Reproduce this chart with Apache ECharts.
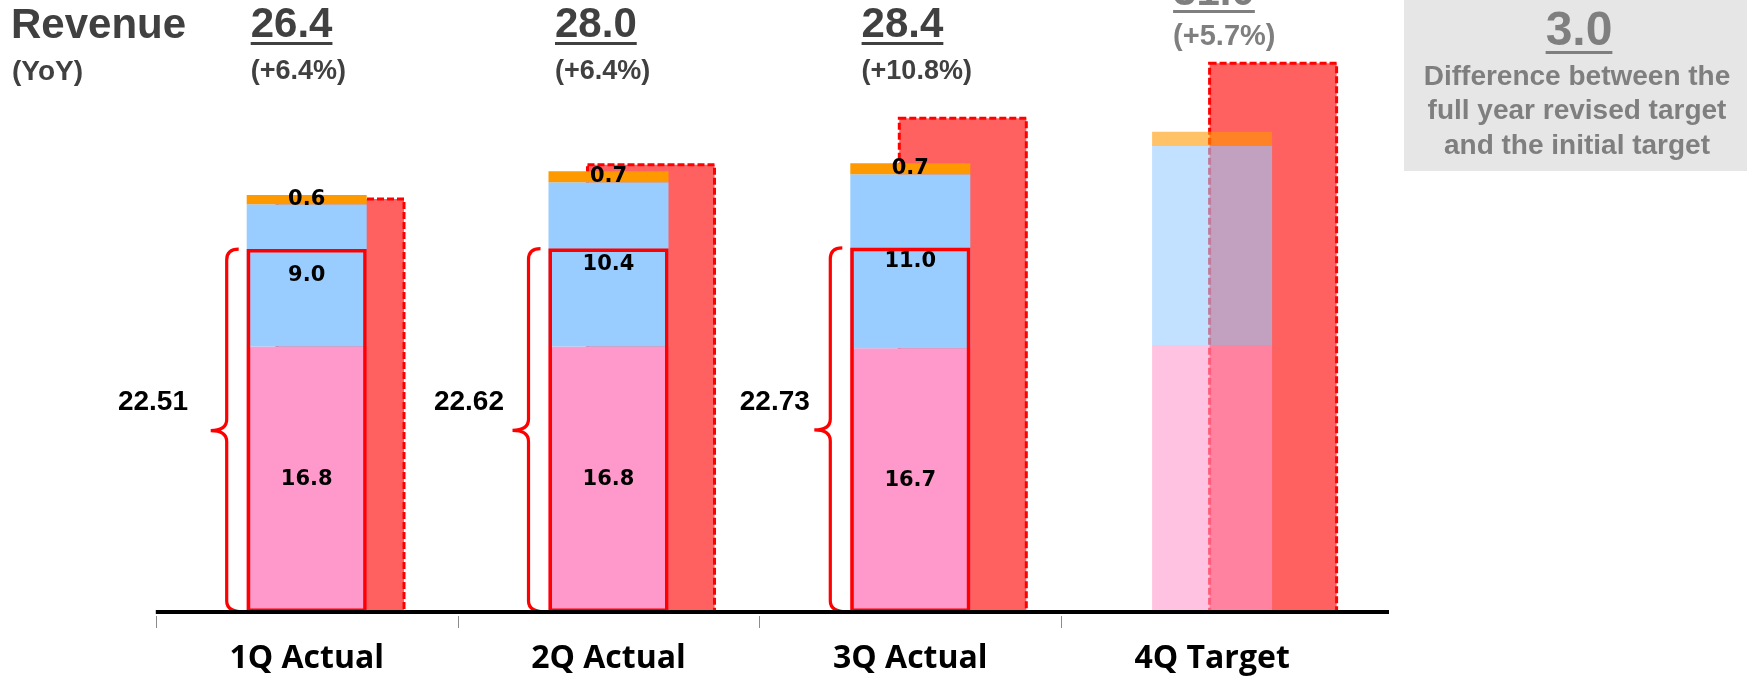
<!DOCTYPE html>
<html><head><meta charset="utf-8">
<script src="https://cdn.jsdelivr.net/npm/echarts@6.0.0/dist/echarts.min.js"></script>
<style>html,body{margin:0;padding:0;background:#fff;}#c{width:1747px;height:677px;}</style>
</head><body><div id="c"></div>
<script>
// ---- data ----
const categories = ['1Q Actual', '2Q Actual', '3Q Actual', '4Q Target'];
const pinkValues = [16.8, 16.8, 16.7, 16.9];
const blueValues = [9.0, 10.4, 11.0, 12.6];
const orangeValues = [0.6, 0.7, 0.7, 0.9];
const redValues = [26.14, 28.31, 31.25, 34.73];
const boxValues = [22.97, 23.0, 23.05, null];
const braceLabels = ['22.51', '22.62', '22.73', ''];
const headerValues = ['26.4', '28.0', '28.4', '31.0'];
const headerYoY = ['(+6.4%)', '(+6.4%)', '(+10.8%)', '(+5.7%)'];
const titleLines = ['Revenue', '(YoY)'];
const diffValue = '3.0';
const diffText = ['Difference between the', 'full year revised target', 'and the initial target'];

// ---- styling / layout ----
const SANS = '"Liberation Sans", Arial, sans-serif';
const barW = 120;
const redOffset = [33.8, 42.5, 52.5, 61];
const redWidth = 127;
const hdrOffset = [-56, -53.5, -48.7, -39];
const braceLabelGap = [58.7, 44.5, 40.5];
const meas = document.createElement('canvas').getContext('2d');
function textW(t, size) { meas.font = 'bold ' + size + 'px ' + SANS; return meas.measureText(t).width; }

function stackData(vals) {
  return vals.map((v, i) => i === 3 ? { value: v, itemStyle: { opacity: 0.6 }, label: { show: false } } : v);
}
const segLabel = {
  show: true, position: 'inside', color: '#000', fontFamily: '"DejaVu Sans"', fontWeight: 'bold', fontSize: 21,
  formatter: p => Number(p.value).toFixed(1)
};

function decorRender(params, api) {
  const i = api.value(0);
  const c = api.coord([i, 0]);
  const bw = api.size([1, 0])[0];
  const bx = Math.round(c[0] - bw / 2) + 0.5;
  const ch = [{ type: 'line', shape: { x1: bx, y1: c[1] + 4, x2: bx, y2: c[1] + 16 }, style: { stroke: '#8c8c8c', lineWidth: 1 } }];
  if (i === 0) {
    const cs = params.coordSys;
    ch.push({ type: 'line', shape: { x1: cs.x, y1: c[1], x2: cs.x + cs.width + 26, y2: c[1] }, style: { stroke: '#000', lineWidth: 4 } });
  }
  return { type: 'group', children: ch };
}

function redRender(params, api) {
  const i = api.value(0);
  const c = api.coord([i, api.value(1)]);
  const b = api.coord([i, 0]);
  const x = c[0] + redOffset[i] - redWidth / 2;
  return { type: 'rect', shape: { x: x, y: c[1], width: redWidth, height: b[1] - c[1] },
    style: { fill: '#ff6060', stroke: '#ff0000', lineWidth: 3, lineDash: [7, 3] } };
}

function braceRender(params, api) {
  const i = api.value(0);
  const top = api.coord([i, api.value(1)]);
  const bot = api.coord([i, 0]);
  const L = top[0] - barW / 2;
  const sx = L - 20, tx = L - 36, ex = L - 8, r = 11;
  const t = top[1], b = bot[1], m = (t + b) / 2;
  const d = 'M' + ex + ',' + t + ' Q' + sx + ',' + t + ' ' + sx + ',' + (t + r) +
    ' L' + sx + ',' + (m - r) + ' Q' + sx + ',' + m + ' ' + tx + ',' + m +
    ' Q' + sx + ',' + m + ' ' + sx + ',' + (m + r) + ' L' + sx + ',' + (b - r) +
    ' Q' + sx + ',' + b + ' ' + (L - 2) + ',' + b;
  return { type: 'group', children: [
    { type: 'path', shape: { pathData: d }, style: { fill: 'none', stroke: '#ff0000', lineWidth: 3.2 } },
    { type: 'text', style: { text: braceLabels[i], x: L - braceLabelGap[i], y: m - 28, align: 'right', verticalAlign: 'middle',
      font: 'bold 28px ' + SANS, fill: '#000' } }
  ] };
}

function headerRender(params, api) {
  const i = api.value(0);
  const cx = api.coord([i, 0])[0];
  const x = cx + hdrOffset[i];
  const is4 = i === 3;
  const col = is4 ? '#7f7f7f' : '#404040';
  const dy = is4 ? -32 : 0, dy2 = is4 ? -35 : 0;
  const vs = 42, ps = is4 ? 29 : 27;
  const w = textW(headerValues[i], vs);
  return { type: 'group', children: [
    { type: 'text', style: { text: headerValues[i], x: x, y: 25.5 + dy, verticalAlign: 'middle', font: 'bold ' + vs + 'px ' + SANS, fill: col } },
    { type: 'rect', shape: { x: x, y: 42 + dy, width: w, height: 3 }, style: { fill: col } },
    { type: 'text', style: { text: headerYoY[i], x: x, y: 72 + dy2, verticalAlign: 'middle', font: 'bold ' + ps + 'px ' + SANS, fill: col } }
  ] };
}

const chart = echarts.init(document.getElementById('c'));
const diffW = textW(diffValue, 48);
const option = {
  animation: false,
  grid: { left: 155.8, right: 384, top: 11.6, bottom: 65 },
  xAxis: { type: 'category', data: categories, axisLine: { show: false }, axisTick: { show: false }, splitLine: { show: false },
    axisLabel: { color: '#000', fontFamily: '"Open Sans"', fontWeight: 'bold', fontSize: 32, lineHeight: 32, margin: 31 } },
  yAxis: { type: 'value', min: 0, max: 38, show: false },
  series: [
    { type: 'custom', name: 'target', z: 1, silent: true, renderItem: redRender, encode: { x: 0, y: 1 },
      data: redValues.map((v, i) => [i, v]) },
    { type: 'bar', name: 'pink', stack: 'rev', z: 3, barWidth: barW, barGap: '-100%', itemStyle: { color: '#ff99cc' },
      label: segLabel, data: stackData(pinkValues) },
    { type: 'bar', name: 'blue', stack: 'rev', z: 3, barWidth: barW, barGap: '-100%', itemStyle: { color: '#99ccff' },
      label: segLabel, data: stackData(blueValues) },
    { type: 'bar', name: 'orange', stack: 'rev', z: 3, barWidth: barW, barGap: '-100%', itemStyle: { color: '#ff9900' },
      label: segLabel, data: stackData(orangeValues) },
    { type: 'bar', name: 'box', z: 4, barWidth: barW, barGap: '-100%',
      itemStyle: { color: 'rgba(0,0,0,0)', borderColor: '#ff0000', borderWidth: 3.5 },
      data: boxValues.map(v => v == null ? '-' : v) },
    { type: 'custom', name: 'brace', z: 5, silent: true, renderItem: braceRender, encode: { x: 0, y: 1 },
      data: boxValues.map((v, i) => v == null ? null : [i, v]).filter(Boolean) },
    { type: 'custom', name: 'header', z: 5, silent: true, renderItem: headerRender, encode: { x: 0, y: 1 },
      data: categories.map((c, i) => [i, 0]) },
    { type: 'custom', name: 'decor', z: 10, silent: true, renderItem: decorRender, encode: { x: 0, y: 1 },
      data: categories.map((c, i) => [i, 0]) }
  ],
  graphic: [
    { type: 'text', x: 11, y: 26.5, style: { text: titleLines[0], verticalAlign: 'middle', font: 'bold 42px ' + SANS, fill: '#404040' } },
    { type: 'text', x: 12, y: 72, style: { text: titleLines[1], verticalAlign: 'middle', font: 'bold 28px ' + SANS, fill: '#404040' } },
    { type: 'rect', x: 1404, y: 0, shape: { width: 343, height: 171 }, style: { fill: '#e6e6e6' } },
    { type: 'text', x: 1579, y: 32, style: { text: diffValue, align: 'center', verticalAlign: 'middle', font: 'bold 48px ' + SANS, fill: '#7f7f7f' } },
    { type: 'rect', x: 1579 - diffW / 2, y: 51, shape: { width: diffW, height: 3 }, style: { fill: '#7f7f7f' } },
    { type: 'text', x: 1577, y: 77, style: { text: diffText[0], align: 'center', verticalAlign: 'middle', font: 'bold 28px ' + SANS, fill: '#7f7f7f' } },
    { type: 'text', x: 1577, y: 111.5, style: { text: diffText[1], align: 'center', verticalAlign: 'middle', font: 'bold 28px ' + SANS, fill: '#7f7f7f' } },
    { type: 'text', x: 1577, y: 146, style: { text: diffText[2], align: 'center', verticalAlign: 'middle', font: 'bold 28px ' + SANS, fill: '#7f7f7f' } }
  ]
};
chart.setOption(option);
</script></body></html>
